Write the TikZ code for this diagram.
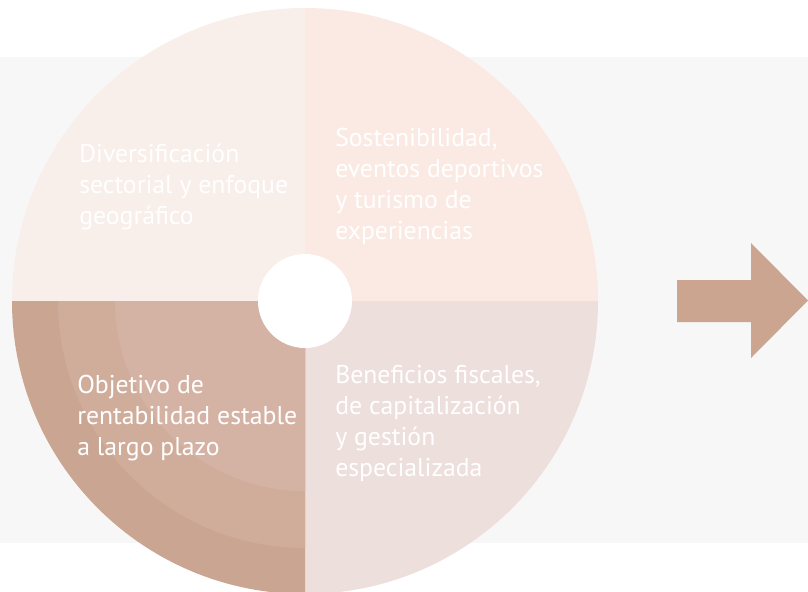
\documentclass[tikz,border=0pt]{standalone}
\usepackage{fontspec}
\setmainfont{PT Sans}
\usepackage{tikz}
\usetikzlibrary{shapes.arrows}
\tikzset{
  quadtext/.style={anchor=base west,align=left,inner sep=0pt,text=white,font=\fontsize{18.6}{22.4}\selectfont},
  band/.style={fill={rgb,255:red,247;green,247;blue,247}},
  quadtl/.style={fill={rgb,255:red,248;green,238;blue,234}},
  quadtr/.style={fill={rgb,255:red,250;green,234;blue,227}},
  quadbr/.style={fill={rgb,255:red,237;green,223;blue,220}},
  ringout/.style={fill={rgb,255:red,202;green,165;blue,146}},
  ringmid/.style={fill={rgb,255:red,208;green,173;blue,155}},
  ringin/.style={fill={rgb,255:red,213;green,179;blue,164}},
  arrowfill/.style={fill={rgb,255:red,204;green,165;blue,145}}
}

\begin{document}
\begin{tikzpicture}

\useasboundingbox (0in,0in) rectangle (8.08in,-5.92in);

\path[band] (0in,-0.57in) rectangle (8.08in,-5.43in);

\coordinate (c) at (3.05in,-3.01in);

\path[quadtl] (c) -- ++(90:2.93in) arc[start angle=90,end angle=180,radius=2.93in] -- cycle;
\path[quadtr] (c) -- ++(0:2.93in) arc[start angle=0,end angle=90,radius=2.93in] -- cycle;
\path[quadbr] (c) -- ++(270:2.93in) arc[start angle=270,end angle=360,radius=2.93in] -- cycle;
\path[ringout] (c) -- ++(180:2.93in) arc[start angle=180,end angle=270,radius=2.93in] -- cycle;
\path[ringmid] (c) -- ++(180:2.47in) arc[start angle=180,end angle=270,radius=2.47in] -- cycle;
\path[ringin] (c) -- ++(180:1.90in) arc[start angle=180,end angle=270,radius=1.90in] -- cycle;

\path (c) node (hub) [shape=circle,fill=white,minimum size=0.94in,inner sep=0pt]{};

\path (0.79in,-2.24in) node (divers) [quadtext]{Diversificación\\sectorial y enfoque\\geográfico};

\path (3.35in,-2.39in) node (sosten) [quadtext]{Sostenibilidad,\\eventos deportivos\\y turismo de\\experiencias};

\path (0.77in,-4.55in) node (objet) [quadtext]{Objetivo de\\rentabilidad estable\\a largo plazo};

\path (3.35in,-4.76in) node (benef) [quadtext]{Beneficios fiscales,\\de capitalización\\y gestión\\especializada};

\path[arrowfill] (6.77in,-2.80in) -- (7.51in,-2.80in) -- (7.51in,-2.43in) -- (8.08in,-3.005in) -- (7.51in,-3.58in) -- (7.51in,-3.22in) -- (6.77in,-3.22in) -- cycle;

\end{tikzpicture}
\end{document}
